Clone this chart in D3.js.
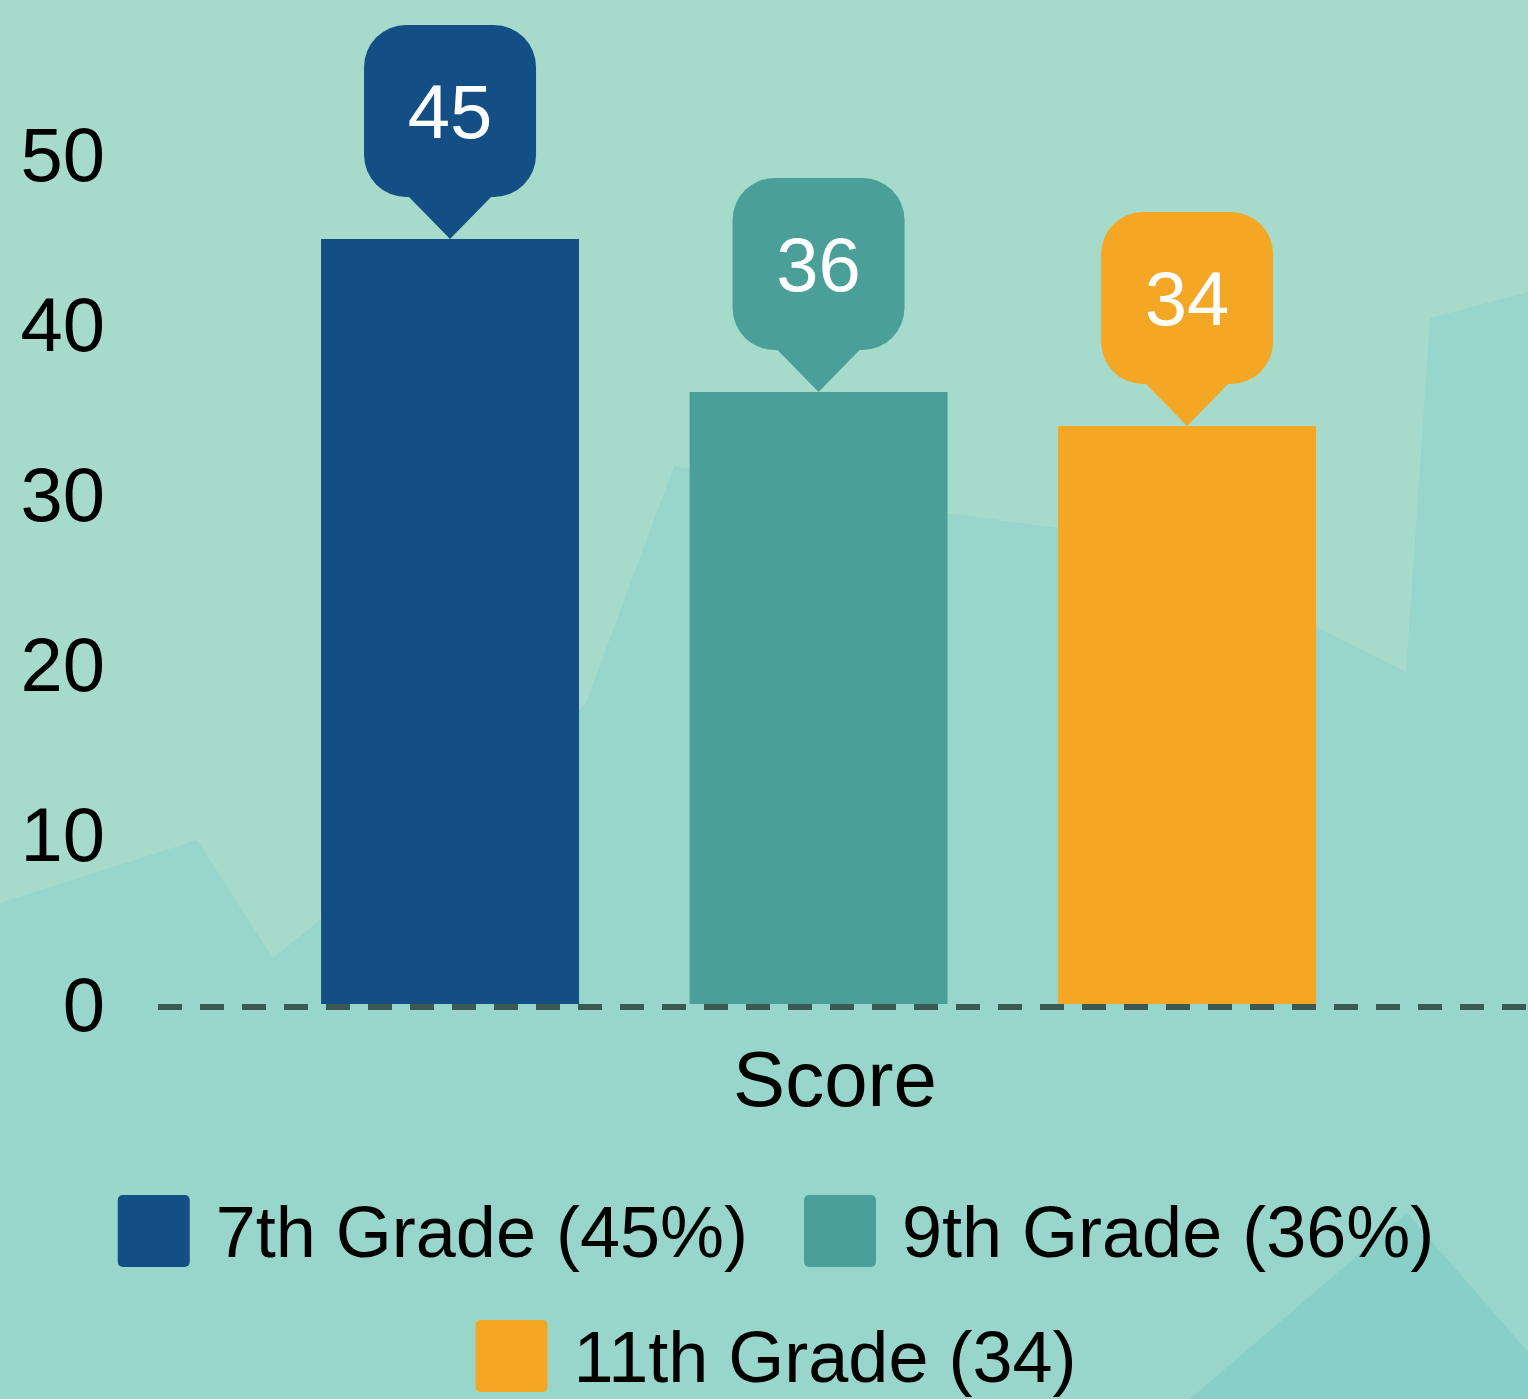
<!DOCTYPE html>
<html>
<head>
<meta charset="utf-8">
<script src="https://cdn.jsdelivr.net/npm/d3@7"></script>
<style>
  html, body { margin: 0; padding: 0; background: #a6dbcc; }
  svg { display: block; }
  svg text { font-family: Arial, "Liberation Sans", Helvetica, sans-serif !important; }
</style>
</head>
<body>
<svg id="chart" width="1528" height="1399"></svg>
<script>
// ---- data ----
const categories = ["Score"];
const seriesNames = ["7th Grade", "9th Grade", "11th Grade"];
const seriesValues = [45, 36, 34];
const legendLabels = ["7th Grade (45%)", "9th Grade (36%)", "11th Grade (34)"];
const yTickValues = [0, 10, 20, 30, 40, 50];
const seriesColors = ["#134f84", "#4aa098", "#f4a725"];

const W = 1528, H = 1399;
const FONT = "Arial, 'Liberation Sans', Helvetica, sans-serif";
const svg = d3.select("#chart");

// ---- decorative background ----
const bg = svg.append("g");
bg.append("rect").attr("width", W).attr("height", H).attr("fill", "#a6dbcc");
const mid = [[0,903],[197,840],[273,958],[585,705],[674,466],[947,513],[1058,528],[1316,627],[1406,672],[1430,318],[1528,292],[1528,1399],[0,1399]];
bg.append("path").attr("d", d3.line()(mid) + "Z").attr("fill", "#98d6cc");
const dark = [[1190,1399],[1407,1213],[1528,1352],[1528,1399]];
bg.append("path").attr("d", d3.line()(dark) + "Z").attr("fill", "#88cfc8");

// ---- scales ----
const y = d3.scaleLinear().domain([0, 50]).range([1004, 154]);
const x = d3.scaleBand().domain(seriesNames).range([210.5, 1426.6]).paddingInner(0.3).paddingOuter(0.3);

const rows = seriesNames.map((s, i) => ({ name: s, value: seriesValues[i], color: seriesColors[i], label: legendLabels[i] }));

// ---- y axis labels ----
const yAxis = d3.axisLeft(y).tickValues(yTickValues).tickSize(0).tickPadding(0);
const yg = svg.append("g").attr("transform", "translate(105,0)").call(yAxis)
  .attr("font-family", FONT);
yg.select(".domain").remove();
yg.selectAll("text")
  .attr("font-size", 76)
  .attr("fill", "#000")
  .attr("dy", "0.35em");

// ---- bars ----
svg.append("g").selectAll("rect").data(rows).join("rect")
  .attr("x", d => x(d.name))
  .attr("y", d => y(d.value))
  .attr("width", x.bandwidth())
  .attr("height", d => y(0) - y(d.value))
  .attr("fill", d => d.color);

// ---- baseline (dashed) ----
svg.append("line")
  .attr("x1", 158).attr("x2", W)
  .attr("y1", y(0) + 3).attr("y2", y(0) + 3)
  .attr("stroke", "#3d5954").attr("stroke-width", 6)
  .attr("stroke-dasharray", "24 18");

// ---- callouts ----
const cw = 172, ch = 172, tipH = 42, tipW = 42, rr = 42;
const callouts = svg.append("g").attr("font-family", FONT).selectAll("g").data(rows).join("g")
  .attr("transform", d => `translate(${x(d.name) + x.bandwidth() / 2},${y(d.value)})`);
callouts.append("rect")
  .attr("x", -cw / 2).attr("y", -tipH - ch)
  .attr("width", cw).attr("height", ch)
  .attr("rx", rr).attr("ry", rr)
  .attr("fill", d => d.color);
callouts.append("path")
  .attr("d", `M${-tipW},${-tipH - 1}L0,0L${tipW},${-tipH - 1}Z`)
  .attr("fill", d => d.color);
callouts.append("text")
  .attr("x", 0).attr("y", -tipH - ch / 2)
  .attr("dy", "0.35em")
  .attr("text-anchor", "middle")
  .attr("font-size", 76)
  .attr("fill", "#fff")
  .text(d => d.value);

// ---- x axis title ----
svg.append("text")
  .attr("x", 835).attr("y", 1106)
  .attr("text-anchor", "middle")
  .attr("font-family", FONT)
  .attr("font-size", 78)
  .attr("fill", "#000")
  .text(categories[0]);

// ---- legend ----
const legendRows = [[rows[0], rows[1]], [rows[2]]];
const legendY = [1195, 1320];
const sq = 72, textGap = 26, itemGap = 56, legendFont = 72, legendCenter = 776;
legendRows.forEach((items, ri) => {
  const g = svg.append("g").attr("font-family", FONT);
  const parts = items.map(d => {
    const ig = g.append("g");
    ig.append("rect").attr("width", sq).attr("height", sq).attr("rx", 5).attr("ry", 5).attr("fill", d.color);
    const t = ig.append("text")
      .attr("x", sq + textGap).attr("y", sq / 2)
      .attr("dy", "0.36em")
      .attr("font-size", legendFont)
      .attr("fill", "#000")
      .text(d.label);
    const w = sq + textGap + t.node().getComputedTextLength();
    return { ig, w };
  });
  const total = d3.sum(parts, p => p.w) + itemGap * (parts.length - 1);
  let cx = legendCenter - total / 2;
  parts.forEach(p => {
    p.ig.attr("transform", `translate(${cx},${legendY[ri]})`);
    cx += p.w + itemGap;
  });
});
</script>
</body>
</html>
